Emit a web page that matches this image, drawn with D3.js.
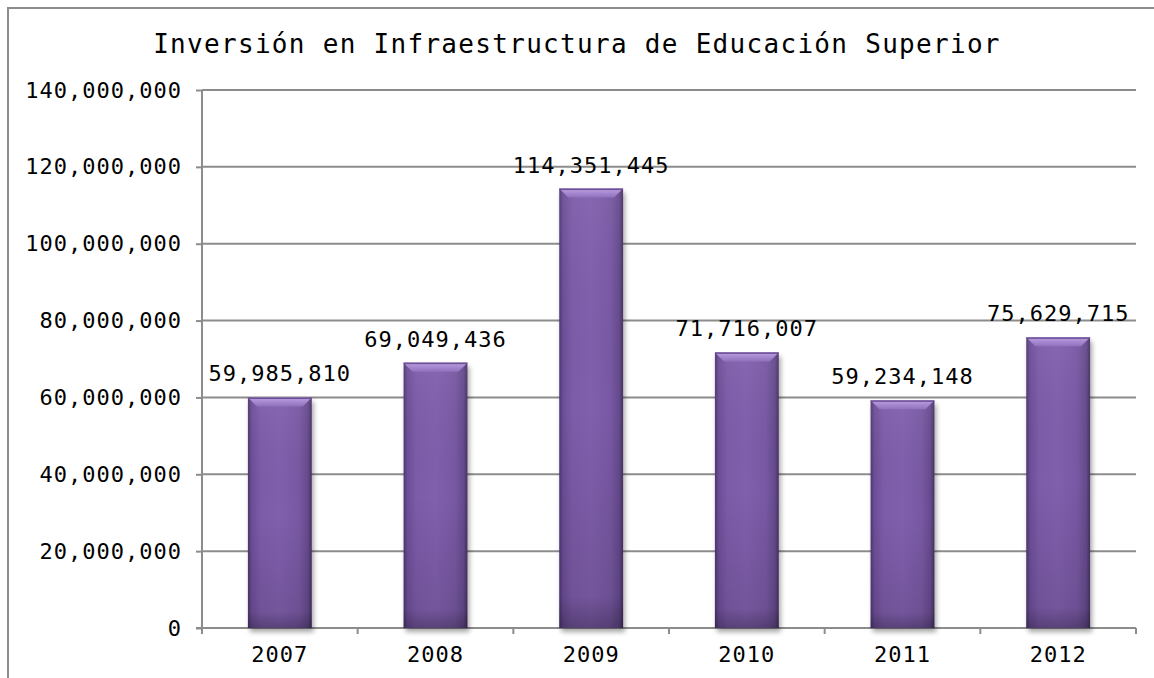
<!DOCTYPE html>
<html lang="es">
<head>
<meta charset="UTF-8">
<title>Inversión en Infraestructura de Educación Superior</title>
<script src="https://d3js.org/d3.v7.min.js"></script>
<style>
  body { margin: 0; background: #fff; }
  text { font-family: "DejaVu Sans Mono", monospace; fill: #000; }
  .axis path, .axis line { stroke: #8c8c8c; stroke-width: 2; }
  .grid line { stroke: #8c8c8c; stroke-width: 2; }
</style>
</head>
<body>
<div id="chart"></div>
<script>
const years = ["2007", "2008", "2009", "2010", "2011", "2012"];
const values = [59985810, 69049436, 114351445, 71716007, 59234148, 75629715];
const yTicks = [0, 20000000, 40000000, 60000000, 80000000, 100000000, 120000000, 140000000];
const title = "Inversión en Infraestructura de Educación Superior";

const width = 1154, height = 678;
const margin = { top: 90, right: 18, bottom: 50, left: 202 };
const plotW = 1136 - margin.left, plotH = 628 - margin.top;

const svg = d3.select("#chart").append("svg")
  .attr("width", width).attr("height", height);

const defs = svg.append("defs");
const hg = defs.append("linearGradient").attr("id", "barH");
[[0, "#4d3670"], [0.06, "#6c4e97"], [0.2, "#7c5ba8"], [0.5, "#805fad"], [0.8, "#7858a3"], [0.94, "#654a8c"], [1, "#463163"]]
  .forEach(([o, c]) => hg.append("stop").attr("offset", o).attr("stop-color", c));
const vg = defs.append("linearGradient").attr("id", "barV").attr("x1", 0).attr("x2", 0).attr("y1", 0).attr("y2", 1);
[[0, "#ffffff", 0.05], [0.5, "#000000", 0], [0.93, "#000000", 0.1], [1, "#000000", 0.3]]
  .forEach(([o, c, a]) => vg.append("stop").attr("offset", o).attr("stop-color", c).attr("stop-opacity", a));
const bevel = defs.append("linearGradient").attr("id", "bevel").attr("x1", 0).attr("x2", 0).attr("y1", 0).attr("y2", 1);
[[0, "#bba0e2"], [1, "#9070bd"]]
  .forEach(([o, c]) => bevel.append("stop").attr("offset", o).attr("stop-color", c));
defs.append("filter").attr("id", "shadow").attr("x", "-20%").attr("y", "-5%").attr("width", "140%").attr("height", "115%")
  .append("feGaussianBlur").attr("stdDeviation", 2.5);

// outer border
svg.append("rect")
  .attr("x", 8).attr("y", 8).attr("width", width + 10).attr("height", height + 10)
  .attr("fill", "none").attr("stroke", "#8c8c8c").attr("stroke-width", 2);

svg.append("text")
  .attr("x", 577).attr("y", 53)
  .attr("text-anchor", "middle")
  .attr("font-size", 26)
  .attr("letter-spacing", 1.3)
  .text(title);

const g = svg.append("g").attr("transform", `translate(${margin.left},${margin.top})`);

const x = d3.scaleBand().domain(years).range([0, plotW]).paddingInner(0.59).paddingOuter(0.295);
const xTick = d3.scaleBand().domain(years).range([0, plotW]);
const y = d3.scaleLinear().domain([0, 140000000]).range([plotH, 0]);

// gridlines
g.append("g").attr("class", "grid")
  .selectAll("line").data(yTicks.slice(1)).join("line")
  .attr("x1", 0).attr("x2", plotW)
  .attr("y1", d => y(d)).attr("y2", d => y(d));

// y axis
const yAxis = g.append("g").attr("class", "axis")
  .call(d3.axisLeft(y).tickValues(yTicks).tickSize(6).tickPadding(14)
    .tickFormat(d3.format(",")).tickSizeOuter(0));
yAxis.select(".domain").attr("d", `M0,0V${plotH + 6}`);
yAxis.selectAll("text").attr("font-size", 22).attr("letter-spacing", 1);

// x axis
const xAxis = g.append("g").attr("class", "axis").attr("transform", `translate(0,${plotH})`);
xAxis.append("line").attr("x1", -6).attr("x2", plotW);
xAxis.selectAll(".tk").data(d3.range(years.length + 1)).join("line")
  .attr("x1", i => i * xTick.step()).attr("x2", i => i * xTick.step())
  .attr("y1", 0).attr("y2", 6);
xAxis.selectAll("text").data(years).join("text")
  .attr("x", d => xTick(d) + xTick.bandwidth() / 2)
  .attr("y", 34)
  .attr("text-anchor", "middle")
  .attr("font-size", 22).attr("letter-spacing", 1)
  .text(d => d);

// bars
const bars = g.selectAll(".bar").data(years.map((yr, i) => ({ yr, v: values[i] }))).join("g").attr("class", "bar");
bars.append("rect")
  .attr("x", d => x(d.yr) + 2).attr("y", d => y(d.v) + 4)
  .attr("width", x.bandwidth()).attr("height", d => plotH - y(d.v))
  .attr("fill", "#000").attr("opacity", 0.35).attr("filter", "url(#shadow)");
bars.append("rect")
  .attr("x", d => x(d.yr)).attr("y", d => y(d.v))
  .attr("width", x.bandwidth()).attr("height", d => plotH - y(d.v))
  .attr("fill", "url(#barH)");
bars.append("rect")
  .attr("x", d => x(d.yr)).attr("y", d => y(d.v))
  .attr("width", x.bandwidth()).attr("height", d => plotH - y(d.v))
  .attr("fill", "url(#barV)");
bars.append("path")
  .attr("d", d => {
    const x0 = x(d.yr), x1 = x0 + x.bandwidth(), t = y(d.v), b = 9;
    return `M${x0},${t}L${x1},${t}L${x1 - b},${t + b}L${x0 + b},${t + b}Z`;
  })
  .attr("fill", "url(#bevel)");
bars.append("rect")
  .attr("x", d => x(d.yr)).attr("y", d => y(d.v))
  .attr("width", x.bandwidth()).attr("height", 1.5)
  .attr("fill", "#6d4f96");

// value labels
g.selectAll(".lbl").data(years.map((yr, i) => ({ yr, v: values[i] }))).join("text")
  .attr("class", "lbl")
  .attr("x", d => x(d.yr) + x.bandwidth() / 2)
  .attr("y", d => y(d.v) - 16)
  .attr("text-anchor", "middle")
  .attr("font-size", 22).attr("letter-spacing", 1)
  .text(d => d3.format(",")(d.v));
</script>
</body>
</html>
